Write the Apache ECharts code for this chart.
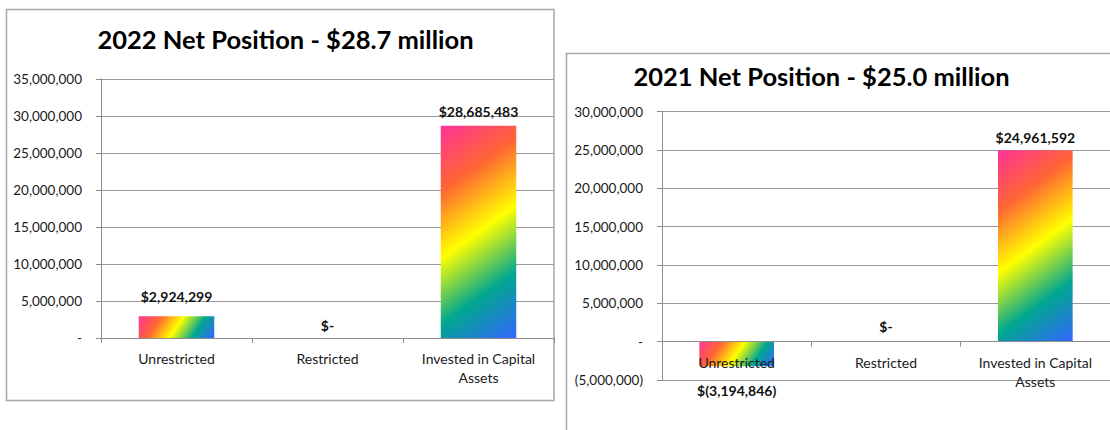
<!DOCTYPE html>
<html>
<head>
<meta charset="utf-8">
<script src="https://cdn.jsdelivr.net/npm/echarts@6/dist/echarts.min.js"></script>
<style>
  html, body { margin: 0; padding: 0; background: #fff; overflow: hidden; }
  #chart { width: 1110px; height: 430px; }
</style>
</head>
<body>
<div id="chart"></div>
<script>
// Net position by component, two fiscal years side by side
const categories = ['Unrestricted', 'Restricted', 'Invested in Capital\nAssets'];
const values2022 = [2924299, 0, 28685483];
const values2021 = [-3194846, 0, 24961592];
const title2022 = '2022 Net Position - $28.7 million';
const title2021 = '2021 Net Position - $25.0 million';
// value-axis ranges (min, max, step)
const axis2022 = [0, 35000000, 5000000];
const axis2021 = [-5000000, 30000000, 5000000];

// "Rainbow II" fill stops
const rainbowStops = [
  { offset: 0, color: '#FF3399' },
  { offset: 0.25, color: '#FF6633' },
  { offset: 0.5, color: '#FFFF00' },
  { offset: 0.75, color: '#01A78F' },
  { offset: 1, color: '#3366FF' }
];

// distance of each value label from its bar end
const labelGap2022 = [13, 6, 7];
const labelGap2021 = [17, 8, 6];

const FONT = 'Lato, "Open Sans", sans-serif';
const GRID_COLOR = '#9a9a9a';
const AXIS_COLOR = '#8c8c8c';
const FRAME_COLOR = '#a6a6a6';

const grids = [
  { left: 101, top: 79, width: 453, height: 259 },
  { left: 662, top: 111.7, width: 460, height: 268.3 }
];

function groupDigits(n) {
  return Math.round(n).toString().replace(/\B(?=(\d{3})+(?!\d))/g, ',');
}
function axisText(v) {
  if (v === 0) return '-';
  return v < 0 ? '(' + groupDigits(-v) + ')' : groupDigits(v);
}
function valueText(v) {
  if (v === 0) return '$-';
  return v < 0 ? '$(' + groupDigits(-v) + ')' : '$' + groupDigits(v);
}

function buildItems(values, gaps, colors) {
  return values.map((v, i) => ({
    value: v,
    itemStyle: colors && colors[i] ? { color: colors[i] } : undefined,
    label: {
      position: v < 0 ? 'bottom' : 'top',
      distance: gaps[i]
    }
  }));
}

function valueAxis(gridIndex, range) {
  return {
    type: 'value',
    gridIndex: gridIndex,
    min: range[0],
    max: range[1],
    interval: range[2],
    axisLine: { show: true, lineStyle: { color: AXIS_COLOR, width: 1 } },
    axisTick: { show: true, length: 5, lineStyle: { color: AXIS_COLOR } },
    splitLine: { show: true, lineStyle: { color: GRID_COLOR, width: 1 } },
    axisLabel: {
      formatter: axisText,
      margin: 19,
      color: '#1a1a1a',
      fontFamily: FONT,
      fontSize: 13.5
    }
  };
}

// The category axis sits on the value axis' zero line; its distance from the
// bottom of the plot follows from the value range.
function categoryAxis(gridIndex, range) {
  const zeroShift = grids[gridIndex].height * (0 - range[0]) / (range[1] - range[0]);
  return {
    type: 'category',
    gridIndex: gridIndex,
    data: categories,
    z: 5,
    offset: -zeroShift,
    axisLine: { show: true, onZero: false, lineStyle: { color: AXIS_COLOR, width: 1 } },
    axisTick: { show: true, length: 5, alignWithLabel: false, lineStyle: { color: AXIS_COLOR } },
    axisLabel: {
      interval: 0,
      margin: 11,
      color: '#1a1a1a',
      fontFamily: FONT,
      fontSize: 14,
      lineHeight: 19
    }
  };
}

function barSeries(index, values, gaps) {
  return {
    type: 'bar',
    xAxisIndex: index,
    yAxisIndex: index,
    barWidth: '50%',
    data: buildItems(values, gaps, null),
    itemStyle: { color: '#FF6633' },
    label: {
      show: true,
      formatter: p => valueText(p.value),
      color: '#111',
      fontFamily: FONT,
      fontWeight: 'bold',
      fontSize: 14
    }
  };
}

const chart = echarts.init(document.getElementById('chart'), null, { renderer: 'svg' });

chart.setOption({
  animation: false,
  backgroundColor: '#ffffff',
  grid: grids.map(g => Object.assign({ containLabel: false }, g)),
  xAxis: [categoryAxis(0, axis2022), categoryAxis(1, axis2021)],
  yAxis: [valueAxis(0, axis2022), valueAxis(1, axis2021)],
  series: [
    barSeries(0, values2022, labelGap2022),
    barSeries(1, values2021, labelGap2021)
  ],
  graphic: [
    {
      type: 'rect', z: -1, silent: true,
      shape: { x: 6.5, y: 9.5, width: 547.5, height: 391 },
      style: { fill: 'none', stroke: FRAME_COLOR, lineWidth: 1.5 }
    },
    {
      type: 'rect', z: -1, silent: true,
      shape: { x: 566.5, y: 53.5, width: 600, height: 420 },
      style: { fill: 'none', stroke: FRAME_COLOR, lineWidth: 1.5 }
    },
    {
      type: 'text', silent: true,
      style: {
        text: title2022, x: 285.5, y: 39,
        textAlign: 'center', textVerticalAlign: 'middle',
        fill: '#000', font: 'bold 25.5px ' + FONT
      }
    },
    {
      type: 'text', silent: true,
      style: {
        text: title2021, x: 821.5, y: 76,
        textAlign: 'center', textVerticalAlign: 'middle',
        fill: '#000', font: 'bold 25.5px ' + FONT
      }
    }
  ]
});

// Diagonal rainbow fill: computed per bar from its laid-out rectangle,
// so the stripes keep a consistent diagonal lean whatever the bar's shape.
function rainbowFor(layout) {
  if (!layout) return null;
  const x0 = Math.min(layout.x, layout.x + layout.width);
  const y0 = Math.min(layout.y, layout.y + layout.height);
  const w = Math.abs(layout.width);
  const h = Math.abs(layout.height);
  if (h < 0.5 || w < 0.5) return null;
  const s = Math.pow(w / h, 1 / 3);
  const t = (w * s + h) / (s * s + 1);
  return new echarts.graphic.LinearGradient(x0, y0, x0 + t * s, y0 + t, rainbowStops, true);
}

function fillsFor(seriesIndex, count) {
  const data = chart.getModel().getSeriesByIndex(seriesIndex).getData();
  const out = [];
  for (let i = 0; i < count; i++) out.push(rainbowFor(data.getItemLayout(i)));
  return out;
}

const fills2022 = fillsFor(0, values2022.length);
const fills2021 = fillsFor(1, values2021.length);
chart.setOption({
  series: [
    { data: buildItems(values2022, labelGap2022, fills2022) },
    { data: buildItems(values2021, labelGap2021, fills2021) }
  ]
});
</script>
</body>
</html>
